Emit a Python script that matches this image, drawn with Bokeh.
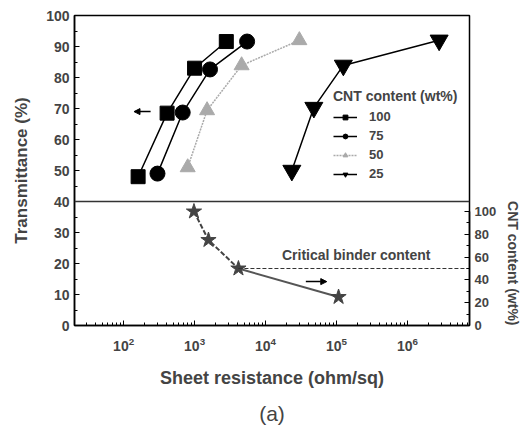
from bokeh.plotting import figure
from bokeh.models import (Range1d, LinearAxis, Span, Legend, LegendItem, Label,
                          Arrow, NormalHead, FixedTicker, Title)
from bokeh.embed import file_html
from bokeh.resources import INLINE

# ---- data ----
cnt_labels = ["100", "75", "50", "25"]
r_100 = [160, 410, 1000, 2800]
t_100 = [48, 68.5, 83, 91.6]
r_75 = [300, 680, 1650, 5500]
t_75 = [49, 68.7, 82.6, 91.6]
r_50 = [800, 1500, 4600, 30000]
t_50 = [51, 69.4, 83.9, 92]
r_25 = [23500, 48000, 125000, 2800000]
t_25 = [50, 70.3, 83.9, 92]
star_r = [980, 1570, 4150, 107000]
star_cnt = [100, 75, 50, 25]
critical_cnt = 50

FONT = "Liberation Sans"

p = figure(width=527, height=435, x_axis_type="log",
           x_range=Range1d(20.3, 7.5e6), y_range=Range1d(0, 100),
           output_backend="svg", toolbar_location=None,
           min_border_left=74, min_border_right=55, min_border_top=15,
           min_border_bottom=110)
p.extra_y_ranges = {"cnt": Range1d(0, 272)}
p.grid.visible = False
p.outline_line_color = "black"
p.outline_line_width = 1.5
p.background_fill_color = "white"
p.border_fill_color = "white"

# axes
p.xaxis.axis_label = "Sheet resistance (ohm/sq)"
p.yaxis.axis_label = "Transmittance (%)"
for ax in (p.xaxis[0], p.yaxis[0]):
    ax.axis_label_text_font = FONT
    ax.axis_label_text_font_style = "bold"
    ax.major_label_text_font = FONT
    ax.major_label_text_font_style = "bold"
    ax.major_label_text_font_size = "14px"
    ax.major_tick_in = 5
    ax.major_tick_out = 0
    ax.minor_tick_in = 3
    ax.minor_tick_out = 0
    ax.axis_line_width = 1.5
p.xaxis.axis_label_text_font_size = "18px"
p.yaxis.axis_label_text_font_size = "17px"
p.yaxis.ticker = FixedTicker(ticks=list(range(0, 101, 10)),
                             minor_ticks=list(range(5, 100, 10)))
p.xaxis.major_label_standoff = 11
p.xaxis.axis_label_standoff = 14
p.yaxis.axis_label_standoff = 12

rax = LinearAxis(y_range_name="cnt", bounds=(0, 100),
                 ticker=FixedTicker(ticks=[0, 20, 40, 60, 80, 100],
                                    minor_ticks=[10, 30, 50, 70, 90]))
rax.major_label_text_font = FONT
rax.major_label_text_font_style = "bold"
rax.major_label_text_font_size = "13px"
rax.major_label_standoff = 5
rax.major_tick_in = 5
rax.major_tick_out = 0
rax.minor_tick_in = 3
rax.minor_tick_out = 0
rax.axis_line_width = 1.5
p.add_layout(rax, "right")

# right axis title
p.add_layout(Title(text="CNT content (wt%)", align="right", text_font=FONT,
                   text_font_style="bold", text_font_size="14px"), "right")

# divider at 40 %
p.add_layout(Span(location=40, dimension="width", line_color="#333333", line_width=1.5))

# series
l1 = p.line(r_100, t_100, line_color="black", line_width=1.5)
m1 = p.scatter(r_100, t_100, marker="square", size=14, color="black")
l2 = p.line(r_75, t_75, line_color="black", line_width=1.5)
m2 = p.scatter(r_75, t_75, marker="circle", size=15, color="black")
l3 = p.line(r_50, t_50, line_color="#aaaaaa", line_width=1.5, line_dash="2 1")
m3 = p.scatter(r_50, t_50, marker="triangle", size=15, color="#aaaaaa")
l4 = p.line(r_25, t_25, line_color="black", line_width=1.5)
m4 = p.scatter(r_25, t_25, marker="inverted_triangle", size=18, color="black")

# stars on right axis
p.line(star_r[:3], star_cnt[:3], y_range_name="cnt", line_color="#444444",
       line_width=2, line_dash="5 2")
p.line(star_r[2:], star_cnt[2:], y_range_name="cnt", line_color="#555555", line_width=2)
p.scatter(star_r, star_cnt, y_range_name="cnt", marker="star", size=16,
          color="#444444")

# critical binder content
p.line([star_r[2], 7.5e6], [critical_cnt, critical_cnt], y_range_name="cnt",
       line_color="#333333", line_width=1, line_dash="4 2")
p.add_layout(Label(x=1.9e5, y=62, y_range_name="cnt", text="Critical binder content",
                   text_font=FONT, text_font_style="bold", text_font_size="14px",
                   text_color="#444444", text_align="center", text_baseline="middle"))

# arrows
p.add_layout(Arrow(x_start=240, y_start=69, x_end=140, y_end=69,
                   line_color="black", line_width=1.5,
                   end=NormalHead(size=6, fill_color="black", line_color="black")))
p.add_layout(Arrow(x_start=37000, y_start=38.5, x_end=73000, y_end=38.5,
                   y_range_name="cnt", line_color="black", line_width=1.5,
                   end=NormalHead(size=6, fill_color="black", line_color="black")))

legend = Legend(items=[LegendItem(label=cnt_labels[0], renderers=[l1, m1]),
                       LegendItem(label=cnt_labels[1], renderers=[l2, m2]),
                       LegendItem(label=cnt_labels[2], renderers=[l3, m3]),
                       LegendItem(label=cnt_labels[3], renderers=[l4, m4])],
                title="CNT content (wt%)", location=(255, 140))
legend.title_text_font = FONT
legend.title_text_font_style = "bold"
legend.title_text_font_size = "14px"
legend.label_text_font = FONT
legend.label_text_font_style = "bold"
legend.label_text_font_size = "13px"
legend.border_line_alpha = 0
legend.background_fill_alpha = 0
legend.glyph_width = 24
legend.glyph_height = 12
legend.label_height = 12
legend.spacing = 4
legend.padding = 4
legend.margin = 0
legend.label_standoff = 12
p.add_layout(legend)

cap = Title(text="(a)", align="center", text_font=FONT, text_font_size="21px",
            text_font_style="normal")
if "standoff" in Title.properties():
    cap.standoff = 18
p.add_layout(cap, "below")

open("out.html", "w").write(file_html(p, INLINE))
